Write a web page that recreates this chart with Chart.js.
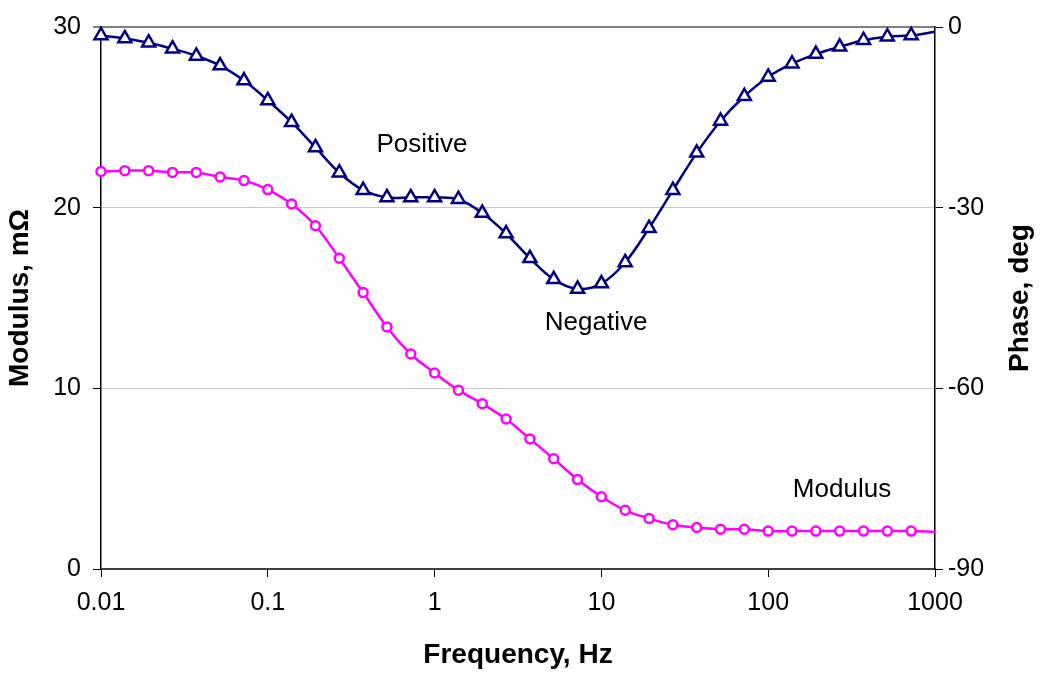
<!DOCTYPE html>
<html lang="en">
<head>
  <meta charset="UTF-8" />
  <title>Modulus and Phase vs Frequency</title>
  <style>
    body {
      margin: 0;
      background: #fff;
    }
    #chart {
      display: block;
    }
  </style>
</head>
<body>
  <canvas id="chart" width="1040" height="673"></canvas>

  <script src="https://cdn.jsdelivr.net/npm/chart.js"></script>
  <script>
    // Datos (7 puntos por década)
    const freq = [0.01, 0.01389, 0.01931, 0.02683, 0.03728, 0.05179, 0.07197,
                  0.1, 0.1389, 0.1931, 0.2683, 0.3728, 0.5179, 0.7197,
                  1, 1.389, 1.931, 2.683, 3.728, 5.179, 7.197,
                  10, 13.89, 19.31, 26.83, 37.28, 51.79, 71.97,
                  100, 138.9, 193.1, 268.3, 372.8, 517.9, 719.7, 1000];

    const modulus = [22.0, 22.05, 22.05, 21.95, 21.95, 21.7, 21.5,
                     21.0, 20.2, 19.0, 17.2, 15.3, 13.4, 11.9,
                     10.85, 9.9, 9.15, 8.3, 7.2, 6.1, 4.95,
                     4.0, 3.25, 2.8, 2.45, 2.3, 2.2, 2.2,
                     2.1, 2.1, 2.1, 2.1, 2.1, 2.1, 2.1, 2.05];

    const phase = [-1.4, -1.9, -2.6, -3.6, -4.8, -6.4, -8.9,
                   -12.2, -15.8, -20.0, -24.2, -27.1, -28.3, -28.3,
                   -28.3, -28.6, -30.9, -34.3, -38.4, -41.9, -43.5,
                   -42.6, -39.1, -33.4, -27.1, -20.9, -15.6, -11.5,
                   -8.3, -6.1, -4.5, -3.3, -2.2, -1.6, -1.4, -0.8];

    const xTicks = [0.01, 0.1, 1, 10, 100, 1000];

    // Etiquetas dentro del gráfico (frecuencia, módulo)
    const noteText = ['Positive', 'Negative', 'Modulus'];
    const noteFreq = [0.84, 9.3, 277];
    const noteModulus = [23.5, 13.6, 4.4];

    const FONT = "'Liberation Sans', Arial, sans-serif";
    const lastIdx = freq.length - 1;

    const notesPlugin = {
      id: 'notes',
      afterDatasetsDraw(chart) {
        const { ctx, scales, chartArea } = chart;
        ctx.save();
        ctx.font = '26px ' + FONT;
        ctx.fillStyle = '#000';
        ctx.textAlign = 'center';
        ctx.textBaseline = 'middle';
        noteText.forEach((t, i) => {
          ctx.fillText(t, scales.x.getPixelForValue(noteFreq[i]), scales.y.getPixelForValue(noteModulus[i]));
        });
        // título del eje derecho, leído de abajo hacia arriba
        ctx.font = 'bold 28px ' + FONT;
        ctx.translate(chart.width - 20, (chartArea.top + chartArea.bottom) / 2);
        ctx.rotate(-Math.PI / 2);
        ctx.fillText('Phase, deg', 0, 0);
        ctx.restore();
      }
    };

    new Chart(document.getElementById('chart'), {
      type: 'line',
      data: {
        datasets: [
          {
            label: 'Phase',
            data: freq.map((f, i) => ({ x: f, y: phase[i] })),
            yAxisID: 'y2',
            borderColor: '#000080',
            borderWidth: 2.5,
            backgroundColor: '#fff',
            pointStyle: 'triangle',
            pointRadius: freq.map((f, i) => i === lastIdx ? 0 : 7.5),
            pointBorderWidth: 2.5,
            pointBorderColor: '#000080',
            pointBackgroundColor: '#fff',
            tension: 0.35,
            clip: false
          },
          {
            label: 'Modulus',
            data: freq.map((f, i) => ({ x: f, y: modulus[i] })),
            yAxisID: 'y',
            borderColor: '#ff00ff',
            borderWidth: 2.5,
            backgroundColor: '#fff',
            pointStyle: 'circle',
            pointRadius: freq.map((f, i) => i === lastIdx ? 0 : 4.5),
            pointBorderWidth: 2.5,
            pointBorderColor: '#ff00ff',
            pointBackgroundColor: '#fff',
            tension: 0.35,
            clip: false
          }
        ]
      },
      options: {
        responsive: false,
        animation: false,
        layout: { padding: { top: 21, left: 0, right: 0, bottom: 0 } },
        plugins: {
          legend: { display: false },
          tooltip: { enabled: false }
        },
        scales: {
          x: {
            type: 'logarithmic',
            position: 'bottom',
            min: 0.01,
            max: 1000,
            afterBuildTicks: axis => { axis.ticks = xTicks.map(v => ({ value: v })); },
            afterFit: axis => { axis.height = 104; },
            ticks: {
              callback: v => String(v),
              font: { family: FONT, size: 25 },
              color: '#000',
              padding: 11,
              maxRotation: 0,
              autoSkip: false
            },
            grid: { drawOnChartArea: false, tickLength: 8, tickColor: '#000', tickWidth: 1 },
            border: { color: '#404040', width: 2 },
            title: {
              display: true,
              text: 'Frequency, Hz',
              color: '#000',
              font: { family: FONT, size: 28, weight: 'bold' },
              padding: { top: 0, bottom: 1 }
            }
          },
          y: {
            position: 'left',
            min: 0,
            max: 30,
            afterFit: axis => { axis.width = 101; },
            ticks: {
              stepSize: 10,
              font: { family: FONT, size: 25 },
              color: '#000',
              padding: 12
            },
            grid: {
              color: c => c.tick.value === 30 ? '#808080' : '#c8c8c8',
              lineWidth: c => c.tick.value === 30 ? 2 : 1,
              tickLength: 8,
              tickColor: '#000',
              tickWidth: 1
            },
            border: { color: '#000', width: 1.5 },
            title: {
              display: true,
              text: 'Modulus, mΩ',
              color: '#000',
              font: { family: FONT, size: 28, weight: 'bold' },
              padding: { top: 3, bottom: 0 }
            }
          },
          y2: {
            position: 'right',
            min: -90,
            max: 0,
            afterFit: axis => { axis.width = 105; },
            ticks: {
              stepSize: 30,
              font: { family: FONT, size: 25 },
              color: '#000',
              padding: 5
            },
            grid: { drawOnChartArea: false, tickLength: 8, tickColor: '#000', tickWidth: 1 },
            border: { color: '#000', width: 1.5 }
          }
        }
      },
      plugins: [notesPlugin]
    });
  </script>
</body>
</html>
